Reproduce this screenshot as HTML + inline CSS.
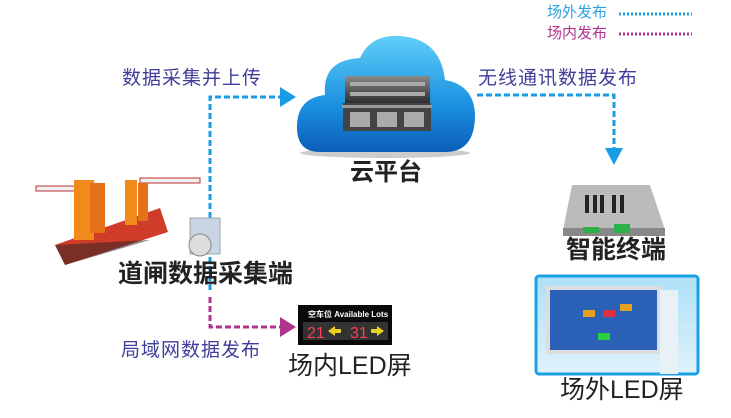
<!DOCTYPE html>
<html><head><meta charset="utf-8"><style>
body{margin:0;width:731px;height:418px;background:#fff;overflow:hidden;position:relative;font-family:"Liberation Sans","Noto Sans CJK SC",sans-serif}
.t{position:absolute;white-space:nowrap;line-height:1}
</style></head><body>
<svg width="731" height="418" style="position:absolute;left:0;top:0">
<defs>
<linearGradient id="cg" x1="0" y1="0" x2="0" y2="1"><stop offset="0" stop-color="#5fd0f8"/><stop offset="0.6" stop-color="#1a8fe0"/><stop offset="1" stop-color="#0b5fb8"/></linearGradient>
<linearGradient id="sg" x1="0" y1="0" x2="0" y2="1"><stop offset="0" stop-color="#8a8a8a"/><stop offset="1" stop-color="#2a2a2a"/></linearGradient>
<linearGradient id="sky" x1="0" y1="0" x2="0" y2="1"><stop offset="0" stop-color="#aee0f6"/><stop offset="1" stop-color="#dff2fb"/></linearGradient>
</defs>
<path d="M619 14H692" stroke="#1aa0e6" stroke-width="3" stroke-dasharray="2 2"/>
<path d="M619 34H692" stroke="#b0348e" stroke-width="3" stroke-dasharray="2 2"/>
<path d="M210 290V97H282" fill="none" stroke="#1a9be6" stroke-width="3" stroke-dasharray="6 3"/>
<path d="M280 87L296 97L280 107Z" fill="#1a9be6"/>
<path d="M477 95H614V150" fill="none" stroke="#1a9be6" stroke-width="3" stroke-dasharray="6 3"/>
<path d="M605 148L614 165L623 148Z" fill="#1a9be6"/>
<path d="M210 297V327H282" fill="none" stroke="#b0348e" stroke-width="3" stroke-dasharray="6 3"/>
<path d="M280 317L296 327L280 337Z" fill="#b0348e"/>
<ellipse cx="385" cy="153" rx="85" ry="5" fill="#ccc"/>
<path d="M320 152 Q296 152 297 125 Q298 98 325 95 Q322 60 360 58 Q370 36 395 36 Q440 36 445 80 Q474 85 475 115 Q475 152 445 152 Z" fill="url(#cg)"/>
<rect x="345" y="76" width="85" height="28" fill="url(#sg)"/>
<rect x="343" y="103" width="88" height="28" fill="#444"/>
<rect x="342" y="105" width="90" height="3" fill="#999"/>
<g fill="#aaa"><rect x="350" y="112" width="20" height="15"/><rect x="377" y="112" width="20" height="15"/><rect x="404" y="112" width="20" height="15"/><rect x="350" y="82" width="75" height="4"/><rect x="350" y="92" width="75" height="4"/></g>
<path d="M55 245L160 208L168 232L65 265Z" fill="#d03c2a"/>
<path d="M55 245L65 265L150 240Z" fill="#222" opacity=".5"/>
<rect x="36" y="186" width="60" height="5" fill="#eee" stroke="#b33"/>
<rect x="140" y="178" width="60" height="5" fill="#eee" stroke="#b33"/>
<rect x="74" y="180" width="20" height="60" fill="#f08a1a"/>
<rect x="90" y="183" width="15" height="50" fill="#e5701a"/>
<rect x="125" y="180" width="12" height="45" fill="#f08a1a"/>
<rect x="138" y="183" width="10" height="38" fill="#e5701a"/>
<rect x="190" y="218" width="30" height="36" fill="#c9d3e6" stroke="#9aa"/>
<circle cx="200" cy="245" r="11" fill="#ddd" stroke="#888"/>
<rect x="298" y="305" width="94" height="40" fill="#0a0a0a"/>
<rect x="303" y="322" width="85" height="18" fill="#333"/>
<text x="308" y="317" font-size="8" fill="#fff" font-family="Liberation Sans,Noto Sans CJK SC,sans-serif" font-weight="bold">空车位 Available Lots</text>
<text x="307" y="338" font-size="16" fill="#ff3d55" font-family="Liberation Sans,sans-serif">21</text>
<text x="350" y="338" font-size="16" fill="#ff3d55" font-family="Liberation Sans,sans-serif">31</text>
<path d="M328 331l7-5v3h6v4h-6v3z M384 331l-7-5v3h-6v4h6v3z" fill="#e8d020"/>
<path d="M572 185H650L665 230H563Z" fill="#bbb"/>
<rect x="563" y="228" width="102" height="8" fill="#888"/>
<g fill="#222"><rect x="585" y="195" width="4" height="18"/><rect x="593" y="195" width="4" height="18"/><rect x="600" y="195" width="4" height="18"/><rect x="612" y="195" width="4" height="18"/><rect x="620" y="195" width="4" height="18"/></g>
<rect x="583" y="227" width="16" height="6" fill="#2cb04a"/><rect x="614" y="224" width="16" height="9" fill="#2cb04a"/>
<rect x="536" y="276" width="162" height="98" rx="3" fill="url(#sky)" stroke="#1aa0e6" stroke-width="3"/>
<rect x="546" y="286" width="115" height="68" fill="#ddd"/>
<rect x="550" y="290" width="107" height="60" fill="#2b62b8"/>
<rect x="660" y="290" width="18" height="84" fill="#e8f2f6"/>
<rect x="583" y="310" width="12" height="7" fill="#e8a020"/><rect x="603" y="310" width="12" height="7" fill="#e03040"/><rect x="620" y="304" width="12" height="7" fill="#e8a020"/><rect x="598" y="333" width="12" height="7" fill="#2ad040"/>
</svg>
<div class="t" style="left:547px;top:5px;font-size:15px;color:#2aa2e0">场外发布</div>
<div class="t" style="left:547px;top:26px;font-size:15px;color:#b0348e">场内发布</div>
<div class="t" style="left:122px;top:69px;font-size:19px;color:#3f3f9a;letter-spacing:1px">数据采集并上传</div>
<div class="t" style="left:478px;top:69px;font-size:19px;color:#3f3f9a;letter-spacing:1px">无线通讯数据发布</div>
<div class="t" style="left:121px;top:341px;font-size:19px;color:#3f3f9a;letter-spacing:1px">局域网数据发布</div>
<div class="t" style="left:350px;top:161px;font-size:24px;font-weight:bold;color:#222">云平台</div>
<div class="t" style="left:566px;top:238px;font-size:25px;font-weight:bold;color:#222">智能终端</div>
<div class="t" style="left:118px;top:262px;font-size:25px;font-weight:bold;color:#222">道闸数据采集端</div>
<div class="t" style="left:288px;top:354px;font-size:25px;color:#222">场内LED屏</div>
<div class="t" style="left:560px;top:378px;font-size:25px;color:#222">场外LED屏</div>
</body></html>
